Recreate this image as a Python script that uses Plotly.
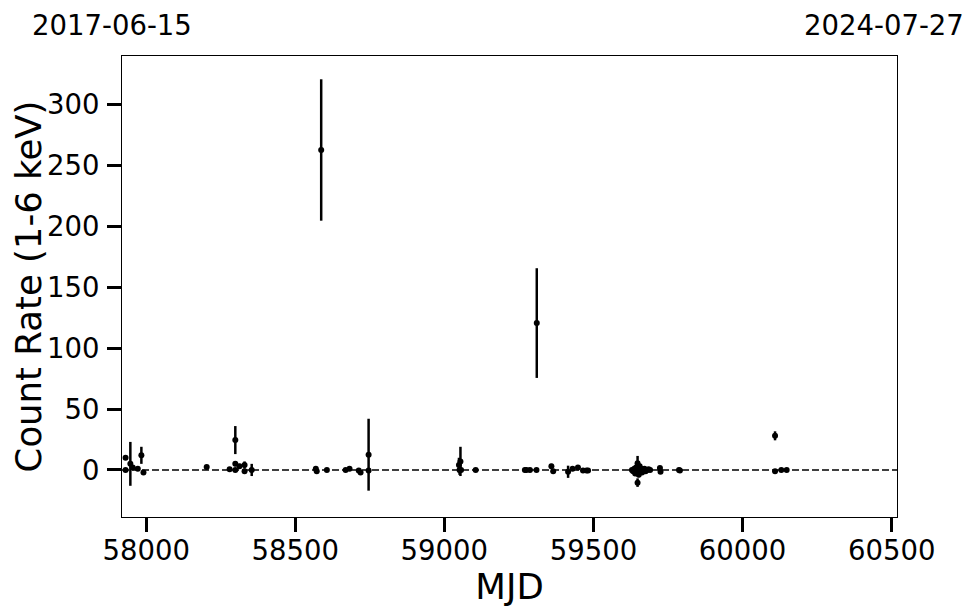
import plotly.graph_objects as go

# Observations: MJD, count rate (1-6 keV), 1-sigma error
mjd = [57931, 57931, 57947, 57955, 57972, 57984, 57991,
       58203, 58280, 58299, 58299, 58299, 58313, 58330, 58330, 58354,
       58569, 58572, 58587, 58606, 58669, 58682, 58713, 58719, 58746, 58746,
       59049, 59051, 59054, 59056, 59105,
       59270, 59275, 59287, 59309, 59310, 59359, 59365, 59415, 59430, 59448,
       59465, 59477, 59482,
       59629, 59633, 59637, 59640, 59643, 59645, 59648, 59648, 59650, 59652,
       59655, 59658, 59660, 59663, 59667, 59671, 59675, 59680, 59685, 59690,
       59723, 59725, 59787, 59790,
       60109, 60109, 60130, 60148]
rate = [10, 0, 5, 2, 1, 12, -2,
        2.5, 0.5, 24.5, 5, 0, 3, 4, -1, 0,
        1, -1, 262.5, 0, 0, 1, -0.5, -2, 12.5, -0.5,
        4, 0, 7, 0, 0,
        0, 0, 0, 0, 120.5, 3, -1, -1.5, 1, 2,
        -0.5, -0.5, -0.5,
        0, -1, 1, -3, 2, -2, 5.5, -10.4, 0, -4,
        3, -1, 1, -2, 0, 1, -1, 0, 0.5, 0,
        1.5, -1.5, 0, -0.5,
        28, -1, 0, 0]
err = [1.5, 1, 18, 1.5, 1, 7, 1.5,
       1.5, 1, 11.5, 2, 1, 2, 3, 1.5, 5,
       1.5, 1.5, 58, 1, 1, 1.5, 1, 1.5, 29.5, 1.5,
       6, 4, 12, 1.5, 1,
       1, 1, 1, 1, 45, 2, 1.5, 5, 1, 1,
       1, 1, 1,
       1, 1.5, 1, 2, 1.5, 2, 6, 3.5, 3, 2,
       2, 1.5, 1, 1.5, 1, 1, 1.5, 1, 1, 1,
       1, 1.5, 1.5, 1,
       3.7, 1, 1, 1]

x_ticks = [58000, 58500, 59000, 59500, 60000, 60500]
y_ticks = [0, 50, 100, 150, 200, 250, 300]
x_range = [57919, 60518]
y_range = [-38.6, 339.6]
start_label = "2017-06-15"
end_label = "2024-07-27"

FONT = "DejaVu Sans"
TICK_SIZE = 27.5
TITLE_SIZE = 35.5

fig = go.Figure()
fig.add_trace(go.Scatter(
    x=mjd, y=rate, mode="markers",
    marker=dict(color="black", size=6),
    error_y=dict(type="data", array=err, visible=True,
                 color="black", thickness=2.5, width=0),
    showlegend=False,
))

fig.add_shape(type="line", xref="paper", yref="y", x0=0, x1=1, y0=0, y1=0,
              line=dict(color="black", width=1.5, dash="7px,3px"))

axis_common = dict(
    showgrid=False, zeroline=False, showline=True, linecolor="black",
    linewidth=1, mirror=True, ticks="outside", ticklen=14, tickwidth=2.5,
    tickcolor="black", tickfont=dict(family=FONT, size=TICK_SIZE, color="black"),
)

fig.update_xaxes(range=x_range, tickvals=x_ticks, tickformat="d",
                 title=dict(text="MJD", font=dict(family=FONT, size=TITLE_SIZE, color="black"),
                            standoff=0),
                 ticklabelstandoff=-5, **axis_common)
fig.update_yaxes(range=y_range, tickvals=y_ticks, tickformat="d",
                 title=dict(text="Count Rate (1-6 keV)",
                            font=dict(family=FONT, size=TITLE_SIZE, color="black"),
                            standoff=4),
                 ticklabelstandoff=2, **axis_common)

for label, xpos in ((start_label, -0.0129), (end_label, 0.983)):
    fig.add_annotation(text=label, xref="paper", yref="paper",
                       x=xpos, y=1, yshift=31, xanchor="center", yanchor="middle",
                       borderpad=0, showarrow=False,
                       font=dict(family=FONT, size=TICK_SIZE, color="black"))

# The page body adds an 8px offset, so the figure is 8px smaller than the window
fig.update_layout(
    width=966, height=605,
    margin=dict(l=114, r=77, t=48, b=96, autoexpand=False),
    paper_bgcolor="white", plot_bgcolor="white",
    font=dict(family=FONT, color="black"),
)

fig.write_html("out.html")
